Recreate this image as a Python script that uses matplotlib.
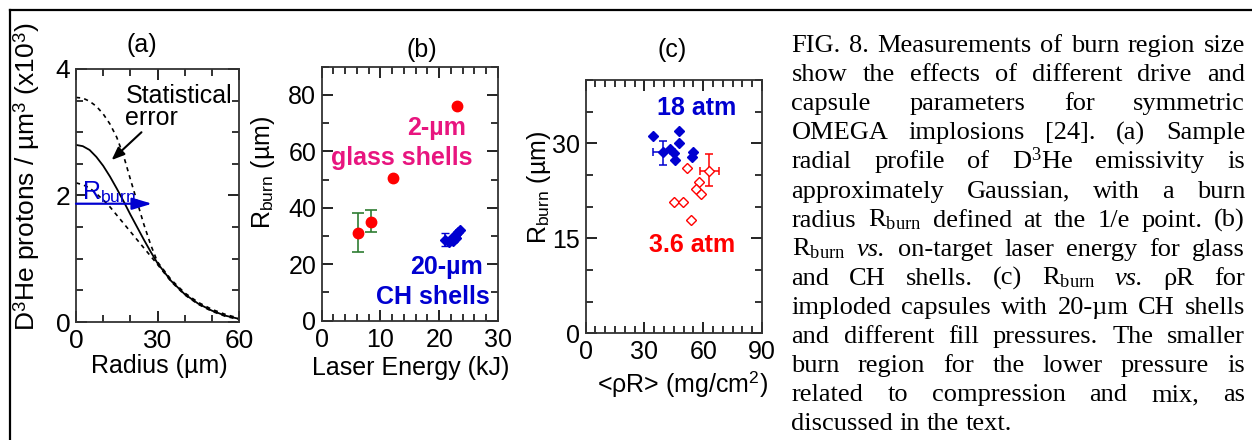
import matplotlib
matplotlib.use("Agg")
import matplotlib.pyplot as plt
from matplotlib.ticker import MultipleLocator
from matplotlib.lines import Line2D

plt.rcParams['font.family'] = ['Liberation Sans', 'DejaVu Sans']
plt.rcParams['mathtext.fontset'] = 'custom'
plt.rcParams['mathtext.rm'] = 'Liberation Serif'
plt.rcParams['mathtext.sf'] = 'Liberation Sans'
plt.rcParams['mathtext.it'] = 'Liberation Serif:italic'
plt.rcParams['mathtext.bf'] = 'Liberation Sans:bold'

# ── (a) radial profile of D3He emissivity (x10^3 protons / um^3) ──
radius = [0, 2.5, 5, 7.5, 10, 12.5, 15, 17.5, 20, 22.5, 25, 27.5, 30,
          35, 40, 45, 50, 55, 60]
profile = [2.80, 2.78, 2.72, 2.61, 2.47, 2.30, 2.11, 1.91, 1.70, 1.50, 1.30, 1.11, 0.93,
           0.65, 0.44, 0.29, 0.18, 0.10, 0.05]
profile_hi = [3.55, 3.54, 3.49, 3.41, 3.29, 3.13, 2.92, 2.63, 2.26, 1.90, 1.54, 1.22, 0.95,
              0.67, 0.46, 0.31, 0.20, 0.12, 0.06]
profile_lo = [2.20, 2.17, 2.12, 2.03, 1.93, 1.82, 1.69, 1.56, 1.43, 1.30, 1.17, 1.04, 0.91,
              0.64, 0.43, 0.28, 0.17, 0.09, 0.04]
r_burn = 28.0
r_burn_level = 1.87

# ── (b) R_burn vs laser energy ──
glass_energy = [6.2, 8.4, 12.1, 23.0]
glass_rburn = [31.2, 35.1, 50.4, 76.1]
glass_err_lo = [24.3, 31.3, None, None]
glass_err_hi = [38.0, 39.2, None, None]
ch_energy = [21.0, 21.6, 22.0, 22.3, 22.6, 22.8, 22.9, 23.2, 23.5]
ch_rburn = [28.6, 28.0, 29.0, 28.2, 30.0, 29.4, 30.8, 31.5, 32.0]
ch_err = (21.0, 28.6, 26.5, 31.0)

# ── (c) R_burn vs <rhoR> ──
atm18_rhor = [34.2, 47.6, 47.6, 39.3, 43.0, 45.2, 45.6, 54.6, 54.1]
atm18_rburn = [31.1, 31.9, 30.0, 28.6, 29.1, 28.4, 27.4, 28.7, 27.9]
atm18_err = (39.3, 28.6, 34.5, 43.9, 26.6, 30.4)
atm36_rhor = [51.6, 63.1, 58.0, 56.3, 58.7, 45.2, 49.8, 53.6]
atm36_rburn = [26.1, 25.7, 23.9, 22.8, 22.0, 20.8, 20.8, 17.9]
atm36_err = (63.1, 25.7, 58.3, 67.9, 23.3, 28.3)

caption_lines = [
    "FIG. 8. Measurements of burn region size",
    "show the effects of different drive and",
    "capsule parameters for symmetric",
    "OMEGA implosions [24]. (a) Sample",
    r"radial profile of D$^{\mathrm{3}}$He emissivity is",
    "approximately Gaussian, with a burn",
    r"radius R$_{\mathrm{burn}}$ defined at the 1/e point. (b)",
    r"R$_{\mathrm{burn}}$ vs. on-target laser energy for glass",
    r"and CH shells. (c) R$_{\mathrm{burn}}$ vs. ρR for",
    "imploded capsules with 20-µm CH shells",
    "and different fill pressures. The smaller",
    "burn region for the lower pressure is",
    "related to compression and mix, as",
    "discussed in the text.",
]

BLUE = '#0000d0'
RED = '#ff0000'
PINK = '#e8157f'
W, H = 1252, 440
FS = 18

fig = plt.figure(figsize=(W / 100, H / 100), dpi=100)


def px_axes(l, t, r, b):
    return fig.add_axes([l / W, 1 - b / H, (r - l) / W, (b - t) / H])


def style(ax, xmaj, xmin, ymaj, ymin, size=FS):
    ax.xaxis.set_major_locator(MultipleLocator(xmaj))
    ax.xaxis.set_minor_locator(MultipleLocator(xmin))
    ax.yaxis.set_major_locator(MultipleLocator(ymaj))
    ax.yaxis.set_minor_locator(MultipleLocator(ymin))
    ax.tick_params(which='both', direction='in', top=True, right=True,
                   labelsize=size, color='#222222')
    ax.tick_params(which='major', length=8, width=1.4)
    ax.tick_params(which='minor', length=5, width=1.3)
    ax.tick_params(axis='x', pad=5)
    ax.tick_params(axis='y', pad=4)
    for s in ax.spines.values():
        s.set_linewidth(1.3)
        s.set_color('#333333')


def ftext(x, y, s, size=FS, **kw):
    fig.text(x / W, 1 - y / H, s, ha='center', va='center', fontsize=size, **kw)


# Panel (a)
ax1 = px_axes(76, 69, 239, 322)
ax1.plot(radius, profile, color='black', lw=1.3)
ax1.plot(radius, profile_hi, color='black', lw=1.2, ls=(0, (2.5, 2.5)))
ax1.plot(radius, profile_lo, color='black', lw=1.2, ls=(0, (2.5, 2.5)))
ax1.annotate('', xy=(r_burn, r_burn_level), xytext=(0, r_burn_level),
             arrowprops=dict(arrowstyle='-|>,head_length=0.6,head_width=0.18',
                             color=BLUE, lw=1.6, mutation_scale=20,
                             shrinkA=0, shrinkB=0))
ax1.text(2.3, 2.06, r'R$_{\mathsf{burn}}$', color=BLUE, fontsize=FS,
         ha='left', va='center')
ax1.text(18.2, 3.58, 'Statistical', fontsize=FS, ha='left', va='center')
ax1.text(18.2, 3.22, 'error', fontsize=FS, ha='left', va='center')
ax1.annotate('', xy=(13.1, 2.56), xytext=(24.1, 3.0),
             arrowprops=dict(arrowstyle='-|>,head_length=0.55,head_width=0.22',
                             color='black', lw=1.5, mutation_scale=14,
                             shrinkA=0, shrinkB=0))
ax1.set_xlim(0, 60)
ax1.set_ylim(0, 4)
style(ax1, 30, 10, 2, 0.5, size=19)
ftext(141.7, 45, '(a)')
ftext(27, 177, r'D$^{\mathsf{3}}$He protons / µm$^{\mathsf{3}}$ (x10$^{\mathsf{3}}$)',
      size=19, rotation=90)
ftext(159, 366, 'Radius (µm)')

# Panel (b)
ax2 = px_axes(321.7, 66.7, 498, 320.7)
for e, r, lo, hi in zip(glass_energy, glass_rburn, glass_err_lo, glass_err_hi):
    if lo is not None:
        ax2.errorbar([e], [r], yerr=[[r - lo], [hi - r]], fmt='none',
                     ecolor='#2f7d32', elinewidth=1.2, capsize=4, capthick=1.2)
ax2.plot(glass_energy, glass_rburn, 'o', color=RED, ms=7.5, zorder=5)
ax2.errorbar([ch_err[0]], [ch_err[1]], yerr=[[ch_err[1] - ch_err[2]], [ch_err[3] - ch_err[1]]],
             fmt='none', ecolor=BLUE, elinewidth=1.2, capsize=3)
ax2.plot(ch_energy, ch_rburn, 'D', color=BLUE, ms=5, zorder=5)
ax2.text(19.6, 68.3, '2-µm', color=PINK, fontsize=FS, weight='bold', ha='center', va='center')
ax2.text(13.65, 57.6, 'glass shells', color=PINK, fontsize=FS, weight='bold', ha='center', va='center')
ax2.text(21.3, 19.0, '20-µm', color=BLUE, fontsize=FS, weight='bold', ha='center', va='center')
ax2.text(18.9, 8.4, 'CH shells', color=BLUE, fontsize=FS, weight='bold', ha='center', va='center')
ax2.set_xlim(0, 30)
ax2.set_ylim(0, 90)
style(ax2, 10, 2, 20, 10)
ftext(421.7, 50, '(b)')
ftext(263, 172, r'R$_{\mathsf{burn}}$ (µm)', rotation=90)
ftext(410.5, 368, 'Laser Energy (kJ)')

# Panel (c)
ax3 = px_axes(585.7, 80, 762, 333.3)
for (cx, cy, xl, xh, yl, yh), col in ((atm18_err, BLUE), (atm36_err, RED)):
    ax3.errorbar([cx], [cy], xerr=[[cx - xl], [xh - cx]], yerr=[[cy - yl], [yh - cy]],
                 fmt='none', ecolor=col, elinewidth=1.1, capsize=3, capthick=1.1)
ax3.plot(atm18_rhor, atm18_rburn, 'D', color=BLUE, ms=5, zorder=5)
ax3.plot(atm36_rhor, atm36_rburn, 'D', mfc='white', mec=RED, mew=1, ms=5, zorder=5)
ax3.text(56.8, 35.6, '18 atm', color=BLUE, fontsize=FS, weight='bold', ha='center', va='center')
ax3.text(54.3, 13.9, '3.6 atm', color=RED, fontsize=FS, weight='bold', ha='center', va='center')
ax3.set_xlim(0, 90)
ax3.set_ylim(0, 40)
style(ax3, 30, 5, 15, 5)
ftext(671.7, 50, '(c)')
ftext(539, 187, r'R$_{\mathsf{burn}}$ (µm)', rotation=90)
ftext(683, 384, r'<ρR> (mg/cm$^{\mathsf{2}}$)')

# frame around the figure
fig.add_artist(Line2D([10 / W, 1], [1 - 10 / H, 1 - 10 / H], color='black', lw=1.6,
                      transform=fig.transFigure))
fig.add_artist(Line2D([10 / W, 10 / W], [0, 1 - 10 / H], color='black', lw=1.6,
                      transform=fig.transFigure))

# justified caption
renderer = fig.canvas.get_renderer()
cap_left, cap_right = 791.5, 1245
cap_base, cap_step = 52, 29.1
for i, line in enumerate(caption_lines):
    words = line.split(' ')
    texts = [fig.text(0, 0, w, fontsize=19, family=['Liberation Serif', 'DejaVu Serif'],
                      style='italic' if w == 'vs.' else 'normal',
                      ha='left', va='baseline') for w in words]
    widths = [t.get_window_extent(renderer).width for t in texts]
    if i == len(caption_lines) - 1:
        gap = 19 * 100 / 72 * 0.25
    else:
        gap = (cap_right - cap_left - sum(widths)) / (len(words) - 1)
    x = cap_left
    y = 1 - (cap_base + i * cap_step) / H
    for t, w in zip(texts, widths):
        t.set_position((x / W, y))
        x += w + gap

fig.savefig("out.png", dpi=100)
